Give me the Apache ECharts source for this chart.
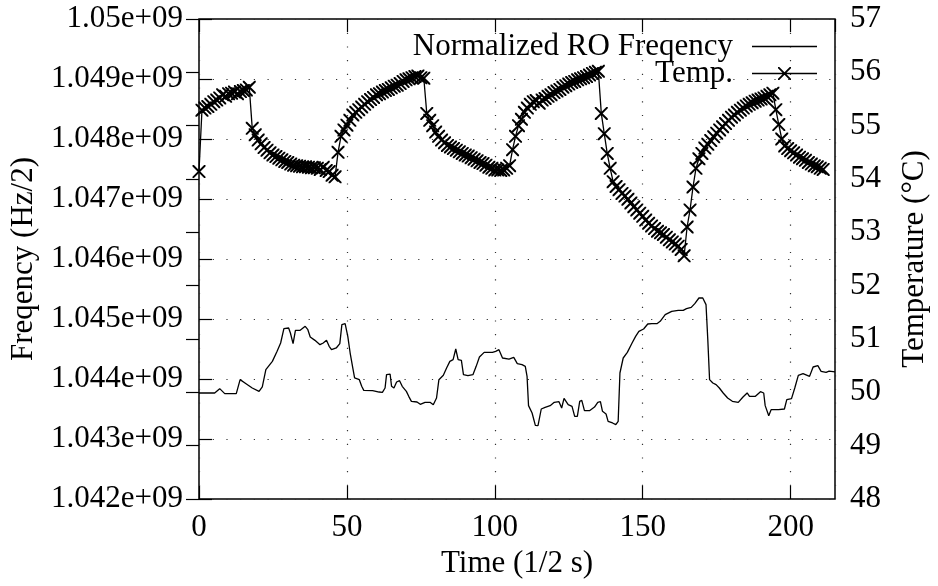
<!DOCTYPE html>
<html>
<head>
<meta charset="utf-8">
<script src="https://cdn.jsdelivr.net/npm/echarts@6/dist/echarts.min.js"></script>
<style>html,body{margin:0;padding:0;background:#fff}#c{width:938px;height:586px}</style>
</head>
<body>
<div id="c"></div>
<script>
// ---- data ----
const xTicks = [0, 50, 100, 150, 200];
const freqTicks = [1.042e9, 1.043e9, 1.044e9, 1.045e9, 1.046e9, 1.047e9, 1.048e9, 1.049e9, 1.05e9];
const tempTicks = [48, 49, 50, 51, 52, 53, 54, 55, 56, 57];
const legendNames = ['Normalized RO Freqency', 'Temp.'];

const freqTime = [0,5.3,7,8.7,12.6,13.9,15.9,18,20.3,21.4,
22.6,24.8,26.4,27.6,28.7,30.3,30.9,31.8,32.6,34.2,
35.9,36.8,37.6,39.2,40.9,42,43.1,44,44.8,46.4,
47.6,48.3,49.4,50.3,51.1,52,52.6,54.2,55,55.7,
58.7,60.9,62,62.9,63.4,64.6,65.1,65.9,66.8,67.8,
68.7,70.1,70.9,71.8,73.7,74.8,76.4,78.1,79.2,80.3,
81.1,82.6,83.7,84.8,85.9,86.8,87.6,88.7,89.4,90.9,
92.6,93.7,94.8,96.4,99.2,100.3,101.4,102.6,104.8,106.4,
107.6,109.2,110.3,110.9,111.4,112.6,113.7,114.6,115.7,117,
118.7,120.1,121.7,122.6,123.4,124.8,126.1,127,127.9,128.7,
129.4,130.3,132,133.7,134.8,135.7,136.4,137.6,138.3,139.8,
140.9,141.7,142.3,143.4,144.8,146.4,147.6,148.7,150.3,151.7,
153.1,154.8,155.9,157.6,159.8,162,163.7,164.8,166.4,167.6,
169,170.3,171.4,172,172.6,173.7,174.8,175.9,177.2,178.7,
180.3,182.3,183.9,185.3,186.1,188.1,189.8,190.9,191.4,192.6,
193.4,195.9,197.9,198.7,200.3,201.4,202.6,204.2,206.4,207.6,
209.2,210.3,212,213,215];

const freqValues = [1.043767e9,1.043767e9,1.043839e9,1.043756e9,1.043756e9,1.043989e9,1.043922e9,1.043850e9,1.043794e9,1.043867e9,
1.044156e9,1.044294e9,1.044461e9,1.044600e9,1.044839e9,1.044850e9,1.044767e9,1.044589e9,1.044811e9,1.044811e9,
1.044878e9,1.044822e9,1.044700e9,1.044644e9,1.044572e9,1.044600e9,1.044644e9,1.044544e9,1.044489e9,1.044517e9,
1.044589e9,1.044906e9,1.044922e9,1.044711e9,1.044433e9,1.044183e9,1.044017e9,1.043989e9,1.043878e9,1.043811e9,
1.043806e9,1.043783e9,1.043778e9,1.043850e9,1.044072e9,1.044083e9,1.043878e9,1.043850e9,1.043950e9,1.043972e9,
1.043878e9,1.043794e9,1.043711e9,1.043628e9,1.043617e9,1.043578e9,1.043611e9,1.043611e9,1.043572e9,1.043683e9,
1.043989e9,1.044061e9,1.044183e9,1.044294e9,1.044322e9,1.044500e9,1.044322e9,1.044311e9,1.044072e9,1.044056e9,
1.044072e9,1.044211e9,1.044367e9,1.044444e9,1.044444e9,1.044461e9,1.044489e9,1.044350e9,1.044333e9,1.044361e9,
1.044256e9,1.044239e9,1.044211e9,1.044044e9,1.043556e9,1.043433e9,1.043228e9,1.043222e9,1.043500e9,1.043528e9,
1.043556e9,1.043611e9,1.043622e9,1.043517e9,1.043678e9,1.043572e9,1.043544e9,1.043378e9,1.043378e9,1.043628e9,
1.043644e9,1.043472e9,1.043472e9,1.043533e9,1.043611e9,1.043622e9,1.043461e9,1.043417e9,1.043294e9,1.043267e9,
1.043239e9,1.043294e9,1.044100e9,1.044350e9,1.044444e9,1.044600e9,1.044711e9,1.044794e9,1.044833e9,1.044917e9,
1.044922e9,1.044922e9,1.044961e9,1.045072e9,1.045128e9,1.045144e9,1.045144e9,1.045172e9,1.045194e9,1.045256e9,
1.045350e9,1.045350e9,1.045239e9,1.044656e9,1.043989e9,1.043933e9,1.043906e9,1.043850e9,1.043767e9,1.043683e9,
1.043628e9,1.043611e9,1.043700e9,1.043767e9,1.043711e9,1.043711e9,1.043789e9,1.043767e9,1.043556e9,1.043389e9,
1.043489e9,1.043489e9,1.043500e9,1.043656e9,1.043672e9,1.043850e9,1.044061e9,1.044089e9,1.044044e9,1.044200e9,
1.044222e9,1.044128e9,1.044110e9,1.044130e9,1.044120e9];

// temperature, one reading per time step (index = time)
const tempValues = [54.14,55.29,55.33,55.36,55.40,55.45,55.48,55.52,55.58,55.55,
55.60,55.61,55.63,55.60,55.64,55.66,55.67,55.72,54.95,54.83,
54.73,54.66,54.59,54.54,54.49,54.45,54.42,54.39,54.36,54.33,
54.31,54.28,54.26,54.25,54.24,54.23,54.23,54.22,54.21,54.21,
54.20,54.18,54.22,54.16,54.14,54.07,54.04,54.50,54.80,54.92,
55.01,55.10,55.20,55.25,55.30,55.35,55.40,55.45,55.49,55.53,
55.58,55.60,55.63,55.66,55.68,55.71,55.74,55.76,55.79,55.83,
55.86,55.88,55.90,55.92,55.93,55.90,55.89,55.23,55.10,55.00,
54.88,54.80,54.73,54.68,54.63,54.60,54.57,54.54,54.51,54.48,
54.45,54.43,54.40,54.37,54.34,54.31,54.29,54.26,54.22,54.20,
54.17,54.17,54.16,54.17,54.20,54.25,54.55,54.80,55.00,55.12,
55.25,55.33,55.40,55.45,55.47,55.42,55.48,55.51,55.55,55.58,
55.62,55.65,55.68,55.72,55.75,55.78,55.81,55.83,55.86,55.88,
55.90,55.92,55.95,55.98,56.00,56.02,55.23,54.85,54.48,54.20,
53.95,53.86,53.80,53.73,53.68,53.62,53.55,53.48,53.42,53.36,
53.30,53.23,53.17,53.12,53.07,53.02,52.99,52.96,52.91,52.86,
52.82,52.78,52.74,52.68,52.56,53.10,53.42,53.85,54.20,54.38,
54.48,54.58,54.65,54.72,54.79,54.86,54.92,54.98,55.04,55.10,
55.16,55.20,55.25,55.29,55.33,55.37,55.40,55.43,55.46,55.48,
55.50,55.52,55.55,55.58,55.61,55.30,55.02,54.75,54.62,54.57,
54.53,54.49,54.45,54.41,54.38,54.35,54.31,54.28,54.25,54.23,
54.20,54.18];

// ---- chart ----
const FONT = 'Liberation Serif';
const FS = 31;
const gridDots = { color: '#333', width: 1.2, type: [1.2, 12.5] };
const xSym = 'path://M0,0L1.3,0L12,10.7L12,12L10.7,12L0,1.3Z M10.7,0L12,0L12,1.3L1.3,12L0,12L0,10.7Z';
// legend keys: blank gap, 65px sample line (+ X marker for temperature)
const keyBounds = 'M0,0L0.01,0L0,0.01Z M79,14L78.99,14L79,13.99Z ';
const keyLine = 'M14,6.35L79,6.35L79,7.65L14,7.65Z ';
const keyCross = 'M40,0.5L41.3,0.5L53,12.2L53,13.5L51.7,13.5L40,1.8Z M51.7,0.5L53,0.5L53,1.8L41.3,13.5L40,13.5L40,12.2Z';
const freqIcon = 'path://' + keyBounds + keyLine;
const tempIcon = 'path://' + keyBounds + keyLine + keyCross;

const chart = echarts.init(document.getElementById('c'), null, { renderer: 'canvas' });
const legendBase = {
  orient: 'horizontal', right: 121, padding: 0, align: 'right',
  itemWidth: 79, itemHeight: 14, selectedMode: false,
  textStyle: { fontFamily: FONT, fontSize: FS, color: '#000' }
};
chart.setOption({
  animation: false,
  backgroundColor: '#fff',
  textStyle: { fontFamily: FONT },
  grid: { left: 199, right: 94, top: 19, bottom: 87, show: true, borderColor: '#000', borderWidth: 1.5, backgroundColor: 'transparent' },
  legend: [
    Object.assign({}, legendBase, { top: 31, data: [{ name: legendNames[0], icon: freqIcon }] }),
    Object.assign({}, legendBase, { top: 58, data: [{ name: legendNames[1], icon: tempIcon }] })
  ],
  xAxis: [{
    type: 'value', min: 0, max: 215, interval: 50,
    name: 'Time (1/2 s)', nameLocation: 'middle', nameGap: 47,
    nameTextStyle: { fontFamily: FONT, fontSize: FS, color: '#000' },
    axisLine: { show: false },
    axisTick: { show: true, inside: true, length: 13, lineStyle: { color: '#000', width: 1.2 } },
    axisLabel: { fontFamily: FONT, fontSize: FS, color: '#000', margin: 13,
      showMaxLabel: false,
      formatter: v => xTicks.indexOf(v) >= 0 ? String(v) : '' },
    splitLine: { show: true, lineStyle: gridDots }
  }, {
    type: 'value', min: 0, max: 215, interval: 50, position: 'top',
    axisLine: { show: false },
    axisTick: { show: true, inside: true, length: 13, lineStyle: { color: '#000', width: 1.2 } },
    axisLabel: { show: false }, splitLine: { show: false }
  }],
  yAxis: [{
    type: 'value', min: freqTicks[0], max: freqTicks[freqTicks.length - 1], interval: 1e6,
    name: 'Freqency (Hz/2)', nameLocation: 'middle', nameRotate: 90, nameGap: 160,
    nameTextStyle: { fontFamily: FONT, fontSize: FS, color: '#000' },
    axisLine: { show: false },
    axisTick: { show: true, inside: true, length: 13, lineStyle: { color: '#000', width: 1.2 } },
    axisLabel: { fontFamily: FONT, fontSize: FS, color: '#000', margin: 16,
      formatter: v => parseFloat((v / 1e9).toFixed(3)) + 'e+09' },
    splitLine: { show: true, lineStyle: gridDots }
  }, {
    type: 'value', min: tempTicks[0], max: tempTicks[tempTicks.length - 1], interval: 1, position: 'right',
    name: 'Temperature (°C)', nameLocation: 'middle', nameRotate: 90, nameGap: 64,
    nameTextStyle: { fontFamily: FONT, fontSize: FS, color: '#000' },
    axisLine: { show: false },
    axisTick: { show: true, inside: true, length: 13, lineStyle: { color: '#000', width: 1.2 } },
    axisLabel: { fontFamily: FONT, fontSize: FS, color: '#000', margin: 15 },
    splitLine: { show: false }
  }],
  series: [{
    name: legendNames[0], type: 'line', xAxisIndex: 0, yAxisIndex: 0,
    data: freqTime.map((t, i) => [t, freqValues[i]]),
    symbol: 'none', smooth: false,
    lineStyle: { color: '#000', width: 1.3 }, itemStyle: { color: '#000' }
  }, {
    name: legendNames[1], type: 'line', xAxisIndex: 0, yAxisIndex: 1,
    data: tempValues.map((v, i) => [i, v]),
    symbol: xSym, symbolSize: 13, showSymbol: true,
    lineStyle: { color: '#000', width: 1.3 }, itemStyle: { color: '#000' }
  }]
});
</script>
</body>
</html>
